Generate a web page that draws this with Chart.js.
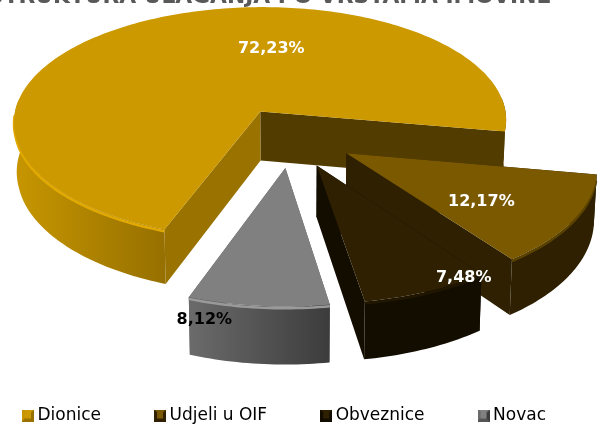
<!DOCTYPE html>
<html>
<head>
<meta charset="utf-8">
<script src="https://cdn.jsdelivr.net/npm/chart.js@4"></script>
<style>
html, body { margin: 0; padding: 0; background: #fff; overflow: hidden; width: 600px; height: 425px; }
canvas { position: absolute; left: -31px; top: -13px; }
</style>
</head>
<body>
<canvas id="chart" width="660" height="447"></canvas>
<script>

const categories = ["Dionice", "Udjeli u OIF", "Obveznice", "Novac"];
const shares = [72.23, 12.17, 7.48, 8.12];
const shareLabels = ["72,23%", "12,17%", "7,48%", "8,12%"];
const titleText = "STRUKTURA ULAGANJA PO VRSTAMA IMOVINE";

const topColors = ["#cc9900", "#7a5900", "#2e2000", "#808080"];
const labelColors = ["#ffffff", "#ffffff", "#ffffff", "#000000"];

// the look of each slice: rim gradient (left, right), straight walls, rim highlight
const looks = [
    { rim: ["#c79600", "#967000"], startWall: "#997200", endWall: "#533c00", glow: "#e2a900" },
    { rim: ["#2e2000", "#2e2000"], startWall: "#2e2000", endWall: "#2e2000", glow: "#5a4200" },
    { rim: ["#130d00", "#130d00"], startWall: "#130d00", endWall: "#130d00", glow: "#211700" },
    { rim: ["#6b6b6b", "#3c3c3c"], startWall: "#555555", endWall: "#555555", glow: "#9a9a9a" }
];

// label centre relative to the tip of its slice
const labelShift = [[11, -63], [135, 49], [147, 112], [-81, 152]];

// the tilted pie
const view = { x: 322.5, y: 150, rx: 245, ry: 116, tiltFront: 0.11, tiltBack: 0.09, height: 50, explode: 0.26 };
const radiusScale = [1.02, 1, 1, 1];

function project(u, v, drop) {
    const p = 1 / (1 - (v > 0 ? view.tiltFront : view.tiltBack) * v);
    const narrow = 1 - 0.01 * drop / view.height;
    return [view.x + view.rx * u * Math.pow(p, 0.95) * narrow, view.y + view.ry * v * p + drop * p];
}

function slicePoint(arc, i, t, r, drop) {
    const mid = (arc.startAngle + arc.endAngle) / 2;
    const size = r * radiusScale[i];
    const u = view.explode * Math.cos(mid) + size * Math.cos(t);
    const v = view.explode * Math.sin(mid) + size * Math.sin(t);
    return project(u, v, drop);
}

function tracePoints(ctx, pts) {
    ctx.beginPath();
    pts.forEach((p, n) => n ? ctx.lineTo(p[0], p[1]) : ctx.moveTo(p[0], p[1]));
}

function anglesOf(arc) {
    const list = [];
    const steps = Math.ceil((arc.endAngle - arc.startAngle) / 0.02);
    for (let n = 0; n <= steps; n++) {
        list.push(arc.startAngle + (arc.endAngle - arc.startAngle) * n / steps);
    }
    return list;
}

// runs of angles on the side of the pie that faces us
function frontRuns(angles) {
    const runs = [];
    let run = null;
    angles.forEach(t => {
        if (Math.sin(t) > -0.13) {
            if (!run) { run = []; runs.push(run); }
            run.push(t);
        } else {
            run = null;
        }
    });
    return runs;
}

function drawSlice(ctx, arc, i) {
    const look = looks[i];
    const angles = anglesOf(arc);
    const tip = slicePoint(arc, i, 0, 0, 0);
    const tipLow = slicePoint(arc, i, 0, 0, view.height);
    const rimTop = angles.map(t => slicePoint(arc, i, t, 1, 0));
    const rimLow = angles.map(t => slicePoint(arc, i, t, 1, view.height));

    // straight walls
    const first = rimTop[0], firstLow = rimLow[0];
    const last = rimTop[rimTop.length - 1], lastLow = rimLow[rimLow.length - 1];
    tracePoints(ctx, [tip, last, lastLow, tipLow]);
    ctx.closePath();
    ctx.fillStyle = look.endWall;
    ctx.fill();
    tracePoints(ctx, [tip, first, firstLow, tipLow]);
    ctx.closePath();
    ctx.fillStyle = look.startWall;
    ctx.fill();

    // rim
    frontRuns(angles).forEach(run => {
        const top = run.map(t => slicePoint(arc, i, t, 1, 0));
        const low = run.map(t => slicePoint(arc, i, t, 1, view.height));
        const xs = top.map(p => p[0]);
        const grad = ctx.createLinearGradient(Math.min(...xs), 0, Math.max(...xs), 0);
        grad.addColorStop(0, look.rim[0]);
        grad.addColorStop(1, look.rim[1]);
        tracePoints(ctx, top.concat(low.reverse()));
        ctx.closePath();
        // the short piece at the far right end of the big slice is in shade
        ctx.fillStyle = Math.sin(run[0]) < 0 ? look.endWall : grad;
        ctx.fill();
    });

    // light along the upper rim
    const front = angles.filter(t => Math.sin(t) > 0.02 && Math.cos(t) < 0.98);
    tracePoints(ctx, front.map(t => slicePoint(arc, i, t, 1, 1.5)));
    ctx.strokeStyle = look.glow;
    ctx.lineWidth = 2.5;
    ctx.stroke();

    // top
    tracePoints(ctx, [tip].concat(rimTop));
    ctx.closePath();
    ctx.fillStyle = topColors[i];
    ctx.fill();
}

const pie3d = {
    id: "pie3d",
    afterLayout(chart) {
        // the title starts a little right of the legend box
        chart.titleBlock.left += 19;
    },
    beforeDatasetDraw(chart) {
        const ctx = chart.ctx;
        const arcs = chart.getDatasetMeta(0).data;
        ctx.save();
        arcs.forEach((arc, i) => drawSlice(ctx, arc, i));
        ctx.textAlign = "center";
        ctx.textBaseline = "middle";
        ctx.font = "bold 16px 'DejaVu Sans'";
        arcs.forEach((arc, i) => {
            const tip = slicePoint(arc, i, 0, 0, 0);
            ctx.fillStyle = labelColors[i];
            ctx.fillText(shareLabels[i], tip[0] + labelShift[i][0], tip[1] + labelShift[i][1]);
        });
        ctx.restore();
        return false;
    }
};

// little pyramid squares for the legend
function legendMark(i) {
    const c = document.createElement("canvas");
    c.width = 12;
    c.height = 12;
    const g = c.getContext("2d");
    g.fillStyle = looks[i].rim[1];
    g.fillRect(0, 0, 12, 12);
    const faces = [
        [[0, 0], [12, 0], topColors[i]],
        [[0, 0], [0, 12], looks[i].rim[0]],
        [[0, 12], [12, 12], looks[i].startWall]
    ];
    faces.forEach(f => {
        g.beginPath();
        g.moveTo(f[0][0], f[0][1]);
        g.lineTo(f[1][0], f[1][1]);
        g.lineTo(6, 6);
        g.closePath();
        g.fillStyle = f[2];
        g.fill();
    });
    g.fillStyle = topColors[i];
    g.fillRect(3, 3, 6, 6);
    return c;
}

new Chart(document.getElementById("chart"), {
    type: "pie",
    data: {
        labels: categories,
        datasets: [{
            data: shares,
            backgroundColor: topColors,
            borderWidth: 0
        }]
    },
    options: {
        responsive: false,
        animation: false,
        rotation: 200,
        plugins: {
            tooltip: { enabled: false },
            title: {
                display: true,
                text: titleText,
                align: "start",
                color: "#595959",
                font: { family: "'DejaVu Sans'", size: 21.8, weight: "bold" },
                padding: { top: -3, bottom: 0 }
            },
            legend: {
                position: "bottom",
                align: "start",
                labels: {
                    usePointStyle: true,
                    boxWidth: 2,
                    padding: 58,
                    color: "#000000",
                    font: { family: "'DejaVu Sans'", size: 17 },
                    generateLabels(chart) {
                        return categories.map((c, i) => ({
                            text: c,
                            index: i,
                            pointStyle: legendMark(i),
                            fontColor: "#000000",
                            lineWidth: 0
                        }));
                    }
                }
            }
        }
    },
    plugins: [pie3d]
});

</script>
</body>
</html>
